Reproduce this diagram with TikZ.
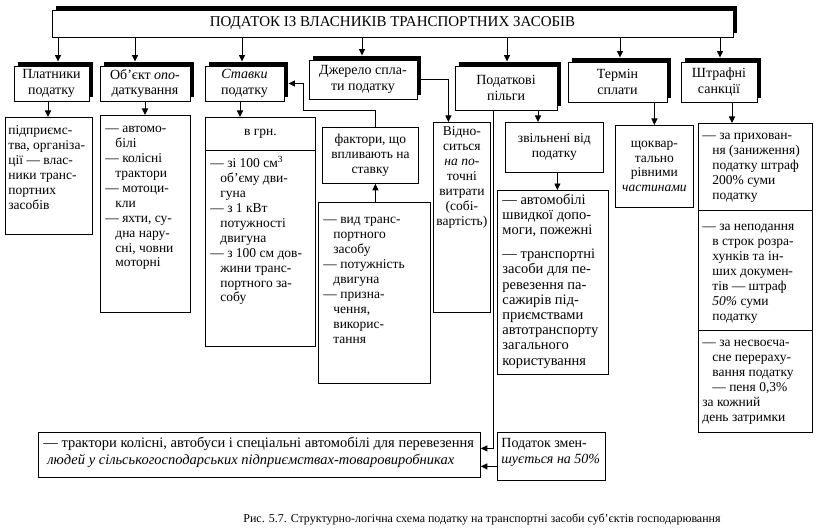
\documentclass[tikz,border=0pt]{standalone}
\usepackage{fontspec}
\setmainfont{Liberation Serif}
\usetikzlibrary{arrows.meta,shadows}
\newcommand{\indt}{\hspace*{10pt}}
\newcommand{\boxtxt}[5][\raggedright]{\parbox[t][#3][t]{#2}{\vspace*{#4}#1\strut#5}}

\begin{document}
\begin{tikzpicture}[x=1pt,y=-1pt,
  head/.style={draw,fill=white,line width=0.9pt,align=center,inner sep=1pt,
               font=\fontsize{14}{15.5}\selectfont,
               general shadow={fill=black,shadow xshift=4pt,shadow yshift=4pt}},
  cell/.style={draw,fill=white,line width=0.8pt,anchor=north west,
               inner xsep=5pt,inner ysep=0pt,font=\fontsize{13.5}{14.9}\selectfont},
  cellc/.style={draw,fill=white,line width=0.8pt,anchor=north west,align=center,
               inner sep=1pt,font=\fontsize{13.5}{14.9}\selectfont},
  arr/.style={-{Triangle[length=6.5pt,width=6pt]},line width=0.9pt},
]
\fill[white] (0,0) rectangle (827,532);
\useasboundingbox (0,0) rectangle (827,532);

\node[head,minimum width=681pt,minimum height=27pt,font=\fontsize{15}{16}\selectfont]
  (tax) at (392.5,23.5) {ПОДАТОК ІЗ ВЛАСНИКІВ ТРАНСПОРТНИХ ЗАСОБІВ};

\node[head,minimum width=75pt,minimum height=35pt] (plat) at (51.5,83.5) {Платники\\податку};
\node[head,minimum width=90pt,minimum height=35pt] (obj) at (145,83.5) {Об’єкт \textit{опо-}\\даткування};
\node[head,minimum width=79pt,minimum height=35pt] (stav) at (244.5,83.5) {\textit{Ставки}\\податку};
\node[head,minimum width=108pt,minimum height=39pt] (dzh) at (363,79.5) {Джерело спла-\\ти податку};
\node[head,minimum width=102pt,minimum height=44pt] (pilg) at (506,88) {Податкові\\пільги};
\node[head,minimum width=99pt,minimum height=40pt] (term) at (617.5,82) {Термін\\сплати};
\node[head,minimum width=76pt,minimum height=40pt] (shtr) at (719,82) {Штрафні\\санкції};

\node[cell,inner xsep=3pt] (platL) at (5,117) {\boxtxt{81pt}{117pt}{7pt}{підприємс-\\тва, організа-\\ції — влас-\\ники транс-\\портних\\засобів}};
\node[cell] (objL) at (100,115) {\boxtxt{80pt}{197pt}{7pt}{— автомо-\\\indt білі\\— колісні\\\indt трактори\\— мотоци-\\\indt кли\\— яхти, су-\\\indt дна нару-\\\indt сні, човни\\\indt моторні}};
\node[cellc,minimum width=110pt,minimum height=33pt] (stavH) at (205,117) {в грн.};
\node[cell] (stavL) at (205,150) {\boxtxt{100pt}{196pt}{6pt}{— зі 100 см\textsuperscript{3}\\\indt об’єму дви-\\\indt гуна\\— з 1 кВт\\\indt потужності\\\indt двигуна\\— з 100 см дов-\\\indt жини транс-\\\indt портного за-\\\indt собу}};
\node[cellc,minimum width=96pt,minimum height=56pt] (factH) at (322,127) {фактори, що\\впливають на\\ставку};
\node[cell] (factL) at (318,202) {\boxtxt{102pt}{181pt}{11pt}{— вид транс-\\\indt портного\\\indt засобу\\— потужність\\\indt двигуна\\— призна-\\\indt чення,\\\indt викорис-\\\indt тання}};
\node[cell,inner xsep=1.5pt] (vidn) at (433,122) {\boxtxt[\centering]{54pt}{190pt}{3pt}{Відно-\\ситься\\\textit{на по-}\\точні\\витрати\\(собі-\\вартість)}};
\node[cellc,minimum width=98pt,minimum height=50pt] (zvil) at (505,122) {звільнені від\\податку};
\node[cell,font=\fontsize{14.5}{15.2}\selectfont] (pilgL) at (497,190) {\boxtxt{101pt}{184pt}{3pt}{— автомобілі\\швидкої допо-\\моги, пожежні\\[9pt]— транспортні\\засоби для пе-\\ревезення па-\\сажирів під-\\приємствами\\автотранспорту\\загального\\користування}};
\node[cellc,minimum width=78pt,minimum height=82pt] (kvart) at (615,125) {щоквар-\\тально\\рівними\\\textit{частинами}};
\node[cell,inner xsep=4pt] (shtrA) at (698,123) {\boxtxt{106pt}{87pt}{6pt}{— за прихован-\\\indt ня (заниження)\\\indt податку штраф\\\indt 200\% суми\\\indt податку}};
\node[cell,inner xsep=4pt] (shtrB) at (698,210) {\boxtxt{106pt}{120pt}{10pt}{— за неподання\\\indt в строк розра-\\\indt хунків та ін-\\\indt ших докумен-\\\indt тів — штраф\\\indt \textit{50\%} суми\\\indt податку}};
\node[cell,inner xsep=4pt] (shtrC) at (698,330) {\boxtxt{106pt}{102pt}{6pt}{— за несвоєча-\\\indt сне перераху-\\\indt вання податку\\\indt — пеня 0,3\%\\за кожний\\день затримки}};
\node[cell,font=\fontsize{14.5}{17}\selectfont] (trakt) at (38,432) {\boxtxt{432pt}{45pt}{3pt}{— трактори колісні, автобуси і спеціальні автомобілі для перевезення\\\hspace*{4pt}\textit{людей у сільськогосподарських підприємствах-товаровиробниках}}};
\node[cell,inner xsep=4pt,font=\fontsize{14}{16}\selectfont] (zmen) at (497,432) {\boxtxt{100pt}{48pt}{4pt}{Податок змен-\\\textit{шується на 50\%}}};

\node[font=\fontsize{12}{14}\selectfont] (cap) at (482,519)
  {Рис. 5.7. Структурно-логічна схема податку на транспортні засоби суб’єктів господарювання};

\foreach \n/\dx in {plat/6.5,obj/-10,stav/-2.5,dzh/-1,pilg/1,term/2.5,shtr/1}
  \draw[arr] ([xshift=\dx pt]\n.north |- tax.south) -- ([xshift=\dx pt,yshift=4pt]\n.north);

\draw[arr] ([xshift=-3.5pt]plat.south) -- ([xshift=-3.5pt]plat.south |- platL.north);
\draw[arr] (obj.south) -- (obj.south |- objL.north);
\draw[arr] ([xshift=-4.5pt]stav.south) -- ([xshift=-4.5pt]stav.south |- stavH.north);
\draw[arr] ([xshift=4pt]dzh.east) -| ([xshift=-13.5pt]vidn.north);
\coordinate (bend) at (303,110);
\draw[arr] ([xshift=5pt]factH.north) |- (bend) |- ([xshift=4pt]stav.east);
\draw[arr] ([xshift=1pt]factL.north) -- ([xshift=1pt]factL.north |- factH.south);
\draw[arr] ([xshift=32pt]pilg.south) -- ([xshift=32pt]pilg.south |- zvil.north);
\draw[arr] ([xshift=-13pt]pilg.south) |- ([yshift=6.5pt]trakt.east);
\draw[arr] ([xshift=3pt]zvil.south) -- ([xshift=3pt]zvil.south |- pilgL.north);
\draw[arr] (kvart.north |- term.south) -- (kvart.north);
\draw[arr] ([xshift=13pt]shtr.south) -- ([xshift=13pt]shtr.south |- shtrA.north);
\draw[arr] ([yshift=-10pt]zmen.west) -- ([yshift=-10pt]zmen.west -| trakt.east);
\end{tikzpicture}
\end{document}
